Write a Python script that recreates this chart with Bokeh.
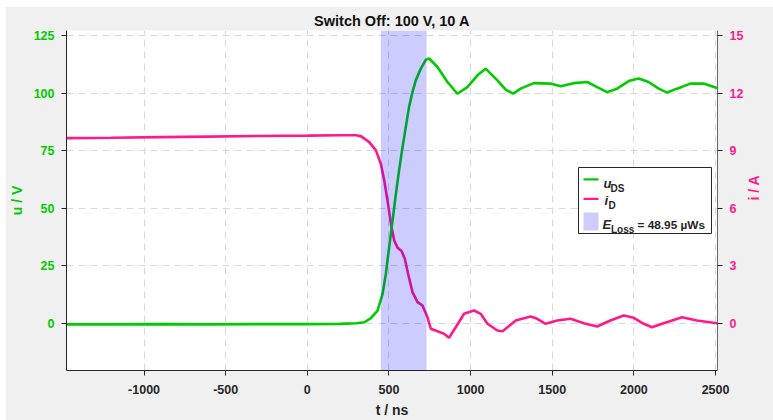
import math
from bokeh.plotting import figure
from bokeh.models import Range1d, LinearAxis, FixedTicker, BoxAnnotation, Label
from bokeh.embed import file_html
from bokeh.resources import INLINE

# ---------------- data ----------------
title_text = "Switch Off: 100 V, 10 A"
x_label = "t / ns"
u_label = "u / V"
i_label = "i / A"

t_u = [-1475, -1200, -900, -600, -300, 0, 200, 300, 350, 389, 430, 461, 481, 501,
       522, 542, 562, 583, 603, 623, 644, 664, 695, 726, 746, 797, 858, 919, 980,
       1042, 1092, 1164, 1215, 1260, 1306, 1387, 1489, 1551, 1632, 1714, 1775,
       1836, 1897, 1968, 2029, 2090, 2152, 2203, 2264, 2346, 2427, 2509]
u_ds = [-0.5, -0.5, -0.4, -0.5, -0.4, -0.4, -0.3, 0.0, 0.4, 2.2, 5.5, 12.8, 21.5, 33.0,
        44.7, 56.0, 66.4, 76.5, 85.2, 94.0, 100.4, 105.5, 110.6, 114.5, 115.0, 111.3,
        104.8, 99.7, 102.6, 107.7, 110.6, 105.5, 101.5, 99.7, 101.9, 104.3, 104.1,
        102.9, 104.3, 104.8, 102.6, 100.4, 101.9, 105.2, 106.3, 104.8, 101.9, 100.2,
        101.9, 104.1, 104.1, 102.2]

t_i = [-1475, -1200, -900, -600, -300, 0, 200, 300, 330, 379, 420, 450, 471, 491, 512,
       532, 553, 577, 597, 617, 644, 675, 705, 736, 756, 797, 837, 868, 909, 960,
       1021, 1062, 1103, 1164, 1196, 1276, 1367, 1408, 1459, 1531, 1612, 1693, 1775,
       1856, 1938, 1999, 2060, 2111, 2182, 2295, 2386, 2509]
i_d = [9.65, 9.67, 9.70, 9.73, 9.76, 9.78, 9.80, 9.80, 9.74, 9.44, 9.01, 8.31, 7.44,
       6.40, 5.18, 4.31, 3.93, 3.76, 3.36, 2.58, 1.62, 1.10, 0.92, 0.31, -0.29, -0.42,
       -0.55, -0.76, -0.21, 0.49, 0.66, 0.49, -0.03, -0.38, -0.42, 0.14, 0.35, 0.23,
       -0.03, 0.14, 0.23, 0.0, -0.17, 0.14, 0.40, 0.28, -0.03, -0.21, 0.0, 0.31, 0.14, 0.0]

t_loss_start = 450
t_loss_end = 730
e_loss_value = "= 48.95 µWs"

x_ticks = [-1000, -500, 0, 500, 1000, 1500, 2000, 2500]
u_ticks = [0, 25, 50, 75, 100, 125]
i_ticks = [0, 3, 6, 9, 12, 15]
x_limits = (-1475, 2512)
u_limits = (-20.55, 127.17)
i_scale = 0.12  # A per V on the right axis

# ---------------- styling ----------------
GREEN = "#00cc00"
PINK = "#ff1a8c"
AXC = "#262626"
FONT = "Liberation Sans"

p = figure(width=768, height=414,
           x_range=Range1d(*x_limits), y_range=Range1d(*u_limits),
           output_backend="svg", toolbar_location=None,
           min_border_left=60, min_border_right=56,
           min_border_top=24, min_border_bottom=50,
           border_fill_color="#f0f0f0", background_fill_color="white",
           outline_line_color=None)
p.margin = (6, 0, 0, 5)
p.extra_y_ranges = {"cur": Range1d(u_limits[0] * i_scale, u_limits[1] * i_scale)}

p.title.text = title_text
p.title.align = "center"
p.title.text_font = FONT
p.title.text_font_size = "14.5px"
p.title.text_font_style = "bold"
p.title.text_color = "#111111"
p.title.standoff = 3


def style_axis(ax, color, standoff, label, label_standoff):
    ax.axis_line_color = AXC
    ax.major_tick_line_color = AXC
    ax.major_tick_out = 5
    ax.major_tick_in = 0
    ax.minor_tick_line_color = None
    ax.major_label_text_font = FONT
    ax.major_label_text_font_style = "bold"
    ax.major_label_text_font_size = "12.5px"
    ax.major_label_text_color = color
    ax.major_label_standoff = standoff
    ax.axis_label = label
    ax.axis_label_text_font = FONT
    ax.axis_label_text_font_size = "14px"
    ax.axis_label_text_font_style = "bold"
    ax.axis_label_text_color = color
    ax.axis_label_standoff = label_standoff


xa = p.xaxis[0]
xa.ticker = FixedTicker(ticks=x_ticks)
style_axis(xa, AXC, 9, x_label, 5)
xa.major_label_overrides = {v: str(v) for v in x_ticks}

ya = p.yaxis[0]
ya.ticker = FixedTicker(ticks=u_ticks)
style_axis(ya, GREEN, 7, u_label, 6)

ra = LinearAxis(y_range_name="cur", ticker=FixedTicker(ticks=i_ticks))
style_axis(ra, PINK, 7, i_label, 8)
ra.axis_line_color = "#666666"
if "axis_label_orientation" in ra.properties():
    ra.axis_label_orientation = math.pi / 2
p.add_layout(ra, "right")

for g in (p.xgrid[0], p.ygrid[0]):
    g.grid_line_color = "#d8d8d8"
    g.grid_line_dash = "7 5"
    g.grid_line_width = 1
p.ygrid[0].ticker = FixedTicker(ticks=u_ticks)
p.xgrid[0].ticker = FixedTicker(ticks=x_ticks)

# curves
p.line(t_i, i_d, color=PINK, line_width=2.6, y_range_name="cur")
p.line(t_u, u_ds, color=GREEN, line_width=2.6)

# loss energy window (semi-transparent, on top)
p.add_layout(BoxAnnotation(left=t_loss_start, right=t_loss_end,
                           fill_color="#0000ff", fill_alpha=0.2,
                           line_alpha=0))


def lab(text, x, y, size, color=AXC, style="bold"):
    p.add_layout(Label(x=x, y=y, x_units="screen", y_units="screen", text=text,
                       text_font=FONT, text_font_size=size, text_font_style=style,
                       text_color=color, text_align="left",
                       text_baseline="alphabetic"))


# custom legend (frame-relative screen units)
def sbox(l, r, b, t, fill, alpha=1.0, line=None):
    p.add_layout(BoxAnnotation(left=l, right=r, bottom=b, top=t,
                               left_units="screen", right_units="screen",
                               bottom_units="screen", top_units="screen",
                               fill_color=fill, fill_alpha=alpha,
                               line_color=line if line else "#000000",
                               line_alpha=1 if line else 0, line_width=1))


sbox(512, 645, 137, 203, "white", 1.0, AXC)
sbox(517, 532, 190, 192.3, GREEN)
sbox(517, 532, 170.5, 172.8, PINK)
sbox(517, 532, 140, 158, "#0000ff", 0.2)

lab("u", 537, 187.5, "13px", AXC, "bold italic")
lab("DS", 544, 182.5, "10px")
lab("i", 538, 170, "13px", AXC, "bold italic")
lab("D", 542, 165, "10px")
lab("E", 536, 146, "13px", AXC, "bold italic")
lab("Loss", 544.5, 141, "10px")
lab(e_loss_value, 571, 146, "11.8px")

open("out.html", "w").write(file_html(p, INLINE))
